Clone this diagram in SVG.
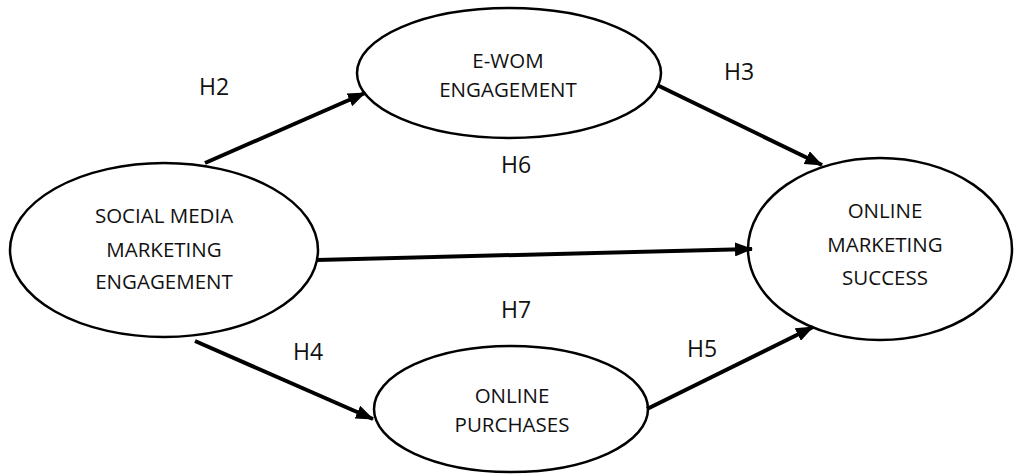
<svg xmlns="http://www.w3.org/2000/svg" width="1014" height="475" viewBox="0 0 1014 475">
<style>
.node ellipse{fill:#fff;stroke:#000;stroke-width:2.5}
.t{font-family:"Open Sans","Liberation Sans",sans-serif;font-size:20.5px;fill:#111;text-anchor:middle}
.h{font-family:"Open Sans","Liberation Sans",sans-serif;font-size:23px;fill:#111;text-anchor:middle}
.c{stroke:#000;stroke-width:4;fill:none;marker-end:url(#ah)}
</style>
<defs>
<marker id="ah" markerUnits="userSpaceOnUse" markerWidth="18" markerHeight="14" viewBox="0 0 18 14" refX="17" refY="7" orient="auto">
<path d="M0,0 L18,7 L0,14 Z" fill="#000"/>
</marker>
</defs>
<rect width="1014" height="475" fill="#fff"/>
<g id="n-smme" class="node">
<ellipse cx="164" cy="250" rx="154" ry="87"/>
<text class="t" x="164" y="223">SOCIAL MEDIA</text>
<text class="t" x="164" y="257">MARKETING</text>
<text class="t" x="164" y="289">ENGAGEMENT</text>
</g>
<g id="n-ewom" class="node">
<ellipse cx="509" cy="73" rx="152" ry="65"/>
<text class="t" x="508" y="68">E-WOM</text>
<text class="t" x="508" y="97">ENGAGEMENT</text>
</g>
<g id="n-success" class="node">
<ellipse cx="880" cy="249" rx="132" ry="91"/>
<text class="t" x="885" y="218">ONLINE</text>
<text class="t" x="885" y="252">MARKETING</text>
<text class="t" x="885" y="285">SUCCESS</text>
</g>
<g id="n-purchases" class="node">
<ellipse cx="511" cy="409" rx="137" ry="63"/>
<text class="t" x="512" y="403">ONLINE</text>
<text class="t" x="512" y="432">PURCHASES</text>
</g>
<g id="connectors">
<line class="c" x1="205" y1="163" x2="365" y2="93"/>
<line class="c" x1="657" y1="85" x2="822" y2="165"/>
<line class="c" x1="317" y1="260" x2="752" y2="249"/>
<line class="c" x1="195" y1="341" x2="373" y2="419"/>
<line class="c" x1="647" y1="409" x2="813" y2="327"/>
</g>
<g id="labels">
<text class="h" x="214" y="95">H2</text>
<text class="h" x="739" y="80">H3</text>
<text class="h" x="516" y="173">H6</text>
<text class="h" x="516" y="318">H7</text>
<text class="h" x="308" y="360">H4</text>
<text class="h" x="702" y="357">H5</text>
</g>
</svg>
